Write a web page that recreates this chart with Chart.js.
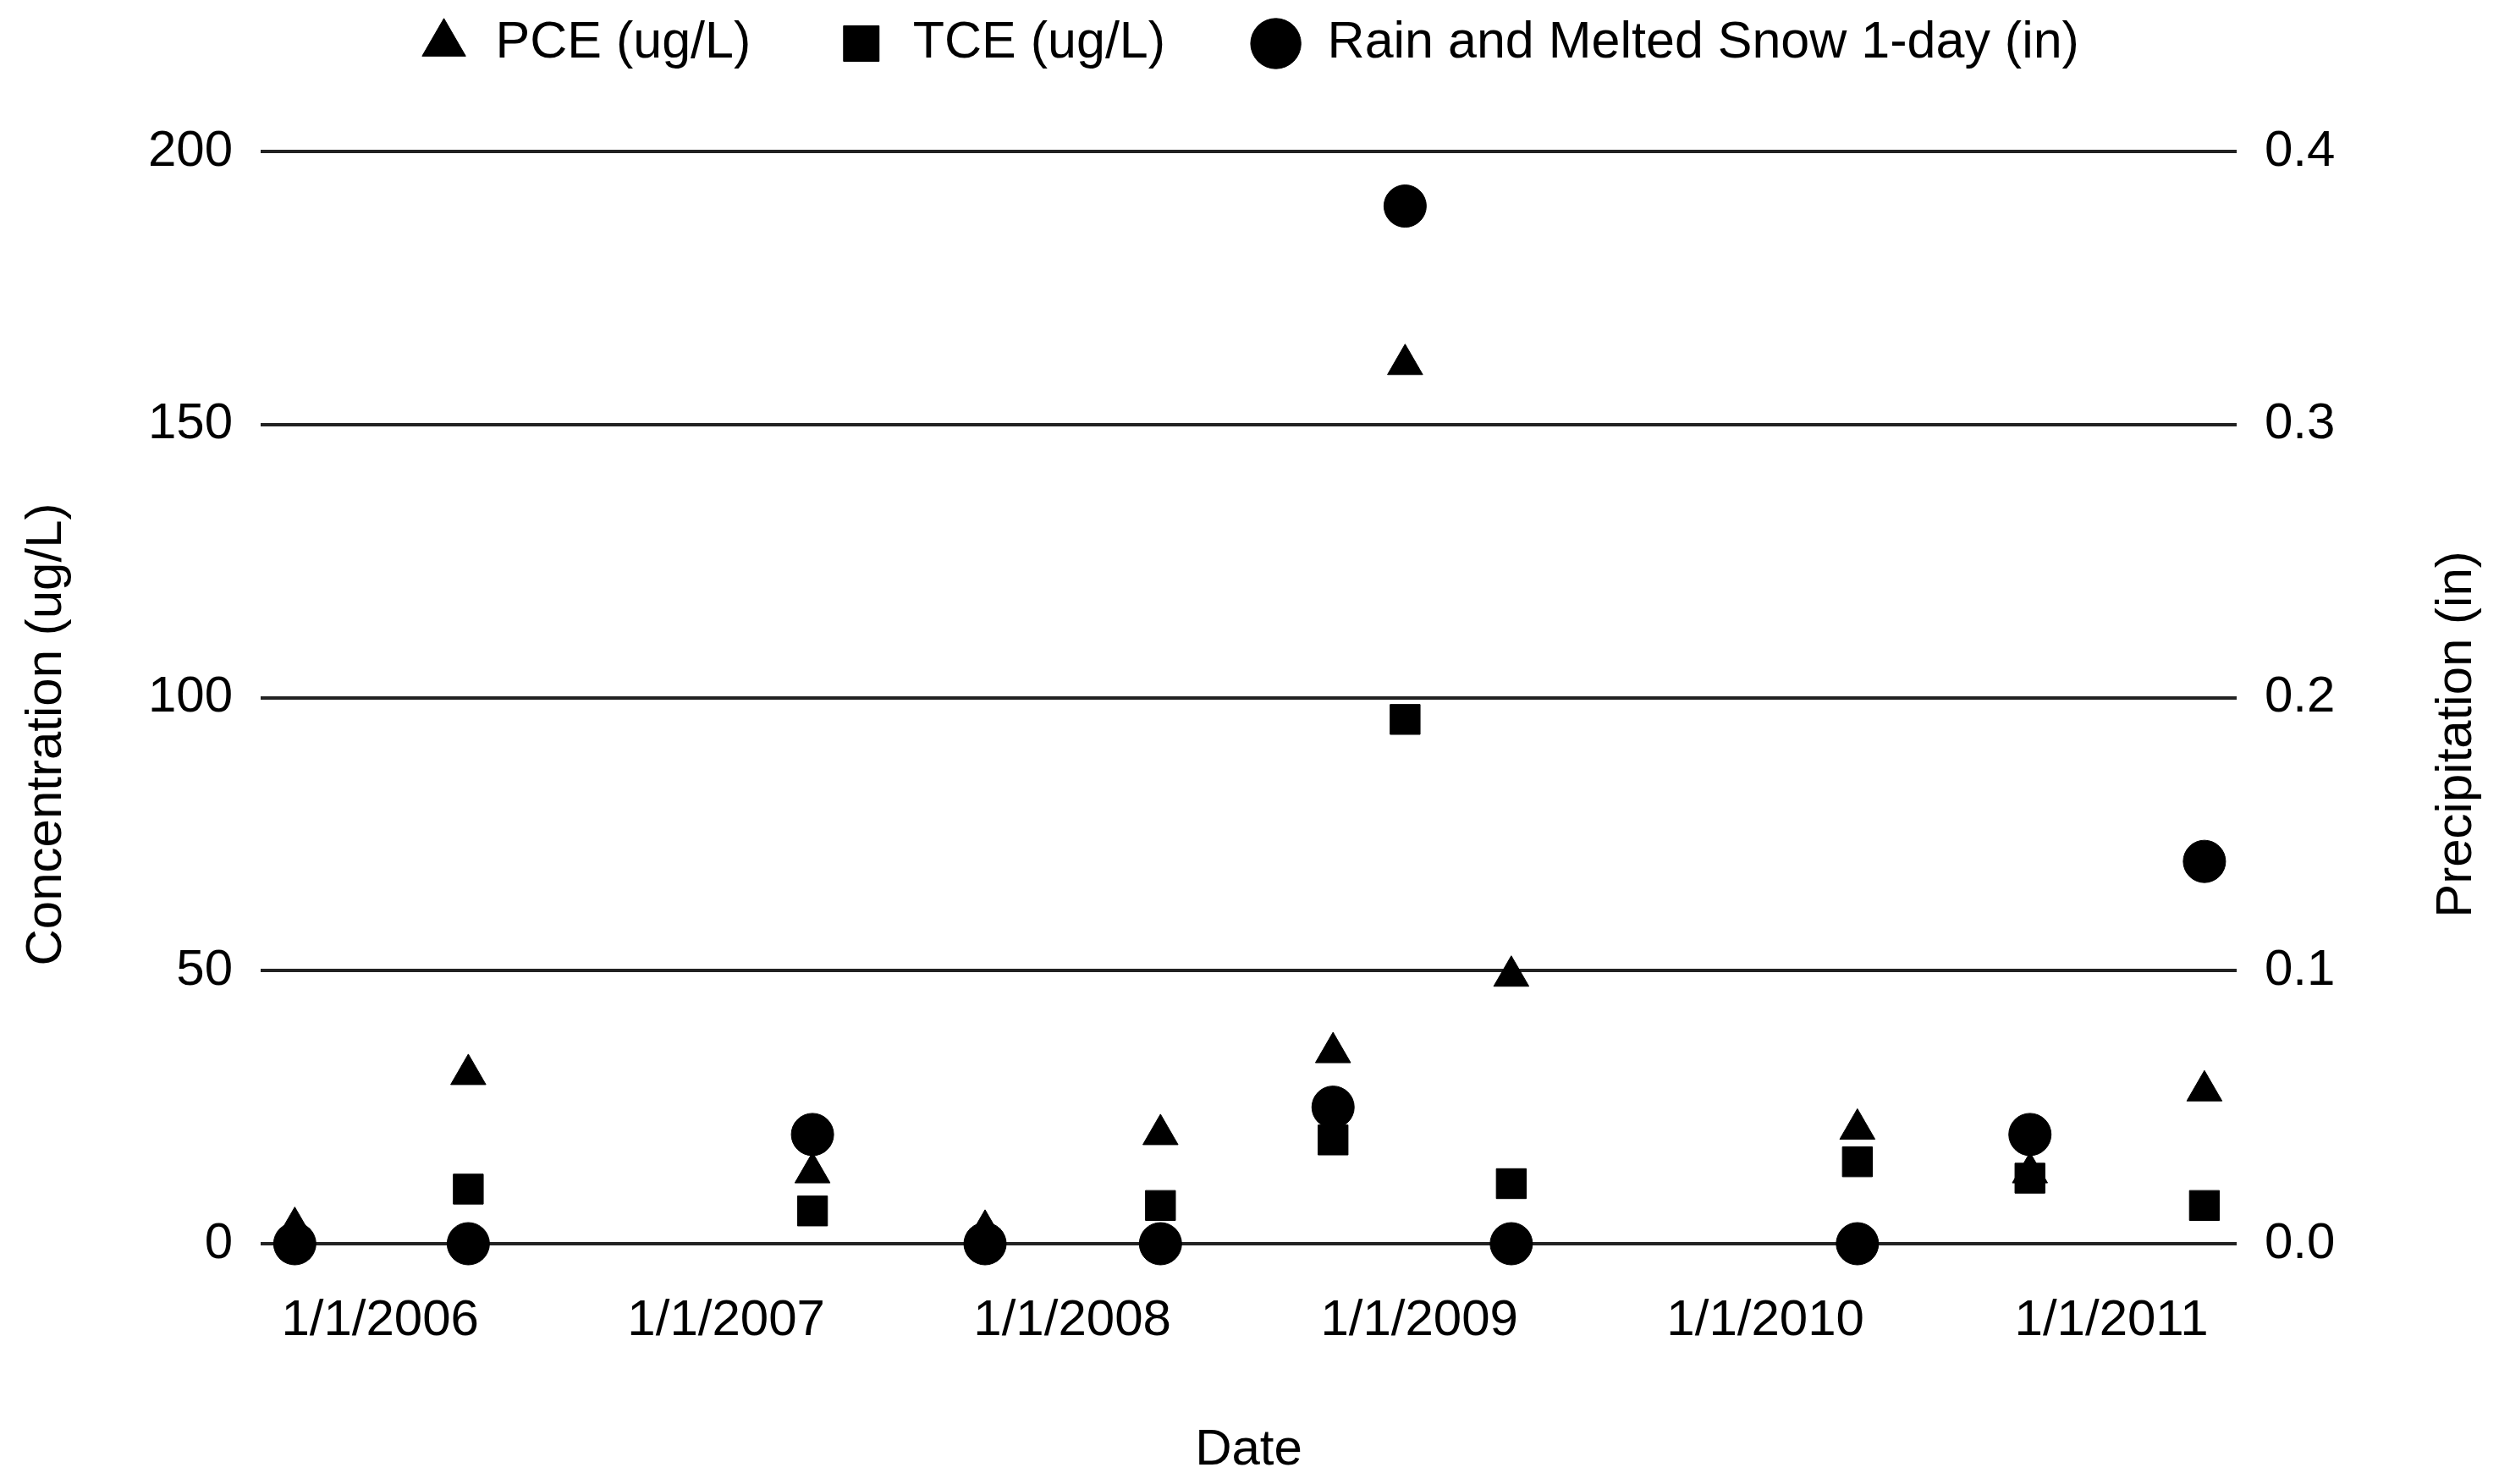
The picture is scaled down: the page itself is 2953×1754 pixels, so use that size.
<!DOCTYPE html>
<html>
<head>
<meta charset="utf-8">
<title>PCE / TCE and Precipitation</title>
<script src="https://cdn.jsdelivr.net/npm/chart.js@4.4.1/dist/chart.umd.min.js"></script>
<style>
  html, body { margin: 0; padding: 0; background: #ffffff; }
  #wrap { position: relative; width: 2953px; height: 1754px; }
</style>
</head>
<body>
<div id="wrap"><canvas id="chart"></canvas></div>
<script>
// ---------------- DATA ----------------
const SAMPLE_DATES = ['2005-10-03', '2006-04-04', '2007-04-02', '2007-10-01', '2008-04-03',
                      '2008-10-02', '2008-12-17', '2009-04-08', '2010-04-08', '2010-10-07', '2011-04-09'];
const PCE_UGL  = [3, 31, 13, 2.5, 20, 35, 161, 49, 21, 13, 28];
const TCE_UGL  = [0, 10, 6, 0, 7, 19, 96, 11, 15, 12, 7];
const RAIN_IN  = [0, 0, 0.04, 0, 0, 0.05, 0.38, 0, 0, 0.04, 0.14];

const SERIES_NAMES = ['PCE (ug/L)', 'TCE (ug/L)', 'Rain and Melted Snow 1-day (in)'];
const X_TICK_DATES  = ['2006-01-01', '2007-01-01', '2008-01-01', '2009-01-01', '2010-01-01', '2011-01-01'];
const X_TICK_LABELS = ['1/1/2006', '1/1/2007', '1/1/2008', '1/1/2009', '1/1/2010', '1/1/2011'];
const X_RANGE = ['2005-08-28', '2011-05-13'];
const Y_TICKS  = [0, 50, 100, 150, 200];
const Y1_TICKS = [0, 0.1, 0.2, 0.3, 0.4];
const X_TITLE = 'Date';
const Y_TITLE = 'Concentration (ug/L)';
const Y1_TITLE = 'Precipitation (in)';

// ---------------- STYLE ----------------
const FONT_FAMILY = '"Liberation Sans", Arial, Helvetica, sans-serif';
const FONT_SIZE = 60;
const LEGEND_FONT_SIZE = 61;
const TEXT_COLOR = '#000000';
const GRID_COLOR = '#222222';

const toMs = s => Date.parse(s + 'T00:00:00Z');
const pts = vals => SAMPLE_DATES.map((d, i) => ({ x: toMs(d), y: vals[i] }));
const tickLabelFor = v => {
  const i = X_TICK_DATES.findIndex(d => toMs(d) === v);
  return i >= 0 ? X_TICK_LABELS[i] : '';
};

// legend row nudge (keeps Chart.js legend spacing, places row near top)
const legendNudge = {
  id: 'legendNudge',
  afterLayout(chart) {
    const lg = chart.legend;
    if (!lg) return;
    const shift = lg.top + lg.options.labels.padding - 21;
    lg.top -= shift;
    lg.bottom -= shift;
  }
};

// vertical axis titles, both reading bottom-to-top
const sideTitles = {
  id: 'sideTitles',
  afterDraw(chart) {
    const ctx = chart.ctx;
    const cy = chart.height / 2 - 9;
    ctx.save();
    ctx.font = FONT_SIZE + 'px ' + FONT_FAMILY;
    ctx.fillStyle = TEXT_COLOR;
    ctx.textAlign = 'center';
    ctx.textBaseline = 'middle';
    [[55, Y_TITLE], [chart.width - 50, Y1_TITLE]].forEach(([x, t]) => {
      ctx.save();
      ctx.translate(x, cy);
      ctx.rotate(-Math.PI / 2);
      ctx.fillText(t, 0, 0);
      ctx.restore();
    });
    ctx.restore();
  }
};

const ctx = document.getElementById('chart');
new Chart(ctx, {
  type: 'scatter',
  data: {
    datasets: [
      {
        label: SERIES_NAMES[0], data: pts(PCE_UGL), yAxisID: 'y', clip: false,
        pointStyle: 'triangle', pointRadius: 24, pointHoverRadius: 24,
        backgroundColor: '#000', borderColor: '#000', borderWidth: 1
      },
      {
        label: SERIES_NAMES[1], data: pts(TCE_UGL), yAxisID: 'y', clip: false,
        pointStyle: 'rect', pointRadius: 25, pointHoverRadius: 25,
        backgroundColor: '#000', borderColor: '#000', borderWidth: 1
      },
      {
        label: SERIES_NAMES[2], data: pts(RAIN_IN), yAxisID: 'y1', clip: false,
        pointStyle: 'circle', pointRadius: 25, pointHoverRadius: 25,
        backgroundColor: '#000', borderColor: '#000', borderWidth: 1
      }
    ]
  },
  options: {
    responsive: true,
    maintainAspectRatio: false,
    devicePixelRatio: 1,
    animation: false,
    layout: { padding: { top: 8, left: 178, right: 180, bottom: 0 } },
    plugins: {
      tooltip: { enabled: false },
      legend: {
        position: 'top',
        align: 'center',
        labels: {
          usePointStyle: true,
          boxWidth: 61,
          boxHeight: 42,
          padding: 100,
          color: TEXT_COLOR,
          font: { family: FONT_FAMILY, size: LEGEND_FONT_SIZE }
        }
      }
    },
    scales: {
      x: {
        type: 'linear',
        position: 'bottom',
        min: toMs(X_RANGE[0]),
        max: toMs(X_RANGE[1]),
        grid: { display: false, drawTicks: false, tickLength: 0 },
        border: { display: false },
        afterBuildTicks: scale => { scale.ticks = X_TICK_DATES.map(d => ({ value: toMs(d) })); },
        ticks: {
          autoSkip: false, maxRotation: 0, minRotation: 0,
          padding: 55,
          color: TEXT_COLOR,
          font: { family: FONT_FAMILY, size: FONT_SIZE },
          callback: v => tickLabelFor(v)
        },
        title: {
          display: true, text: X_TITLE, color: TEXT_COLOR,
          font: { family: FONT_FAMILY, size: FONT_SIZE },
          padding: { top: 26, bottom: 4 }
        }
      },
      y: {
        type: 'linear',
        position: 'left',
        min: Y_TICKS[0],
        max: Y_TICKS[Y_TICKS.length - 1],
        afterBuildTicks: scale => { scale.ticks = Y_TICKS.map(v => ({ value: v })); },
        afterFit: scale => { scale.width = 130; },
        grid: { color: GRID_COLOR, lineWidth: 4, drawTicks: false, tickLength: 0 },
        border: { display: false },
        ticks: {
          padding: 33,
          color: TEXT_COLOR,
          font: { family: FONT_FAMILY, size: FONT_SIZE },
          callback: v => String(v)
        }
      },
      y1: {
        type: 'linear',
        position: 'right',
        min: Y1_TICKS[0],
        max: Y1_TICKS[Y1_TICKS.length - 1],
        afterBuildTicks: scale => { scale.ticks = Y1_TICKS.map(v => ({ value: v })); },
        afterFit: scale => { scale.width = 130; },
        grid: { display: false, drawTicks: false, tickLength: 0 },
        border: { display: false },
        ticks: {
          padding: 33,
          color: TEXT_COLOR,
          font: { family: FONT_FAMILY, size: FONT_SIZE },
          callback: v => Number(v).toFixed(1)
        }
      }
    }
  },
  plugins: [legendNudge, sideTitles]
});
</script>
</body>
</html>
